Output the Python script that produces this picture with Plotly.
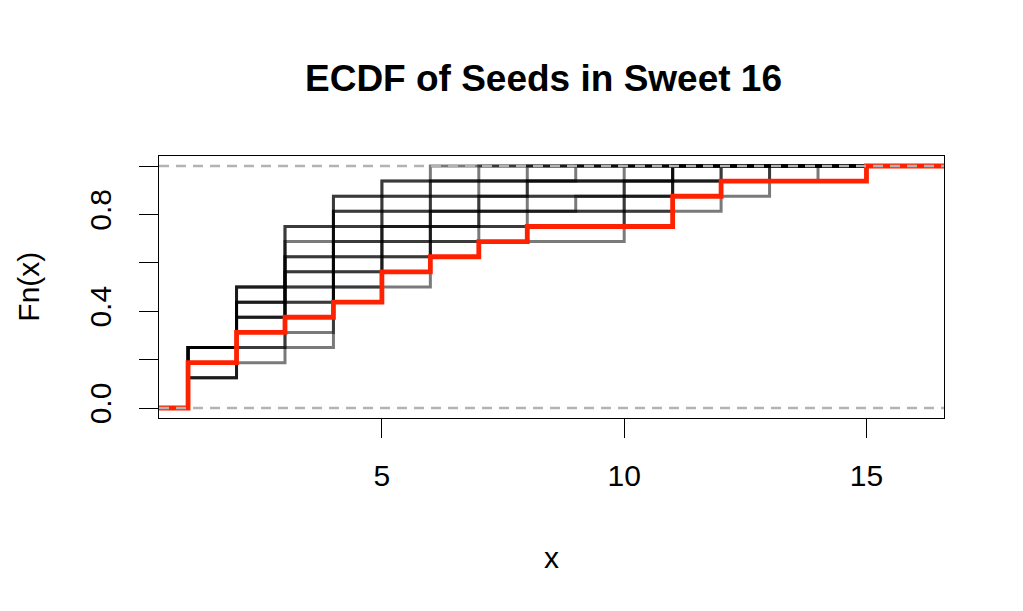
import numpy as np
import plotly.graph_objects as go

# seeds of the sixteen teams that reached the Sweet 16, one list per tournament
seeds_01 = [1, 1, 2, 3, 4, 4, 4, 4, 6, 6, 6, 10, 10, 12, 13, 14]
seeds_02 = [1, 1, 2, 2, 3, 4, 4, 4, 5, 5, 6, 7, 10, 11, 12, 13]
seeds_03 = [1, 1, 2, 2, 3, 3, 4, 4, 4, 5, 6, 6, 8, 10, 11, 13]
seeds_04 = [1, 1, 1, 2, 2, 3, 3, 4, 4, 5, 5, 6, 7, 10, 11, 12]
seeds_05 = [1, 1, 1, 2, 2, 3, 3, 4, 4, 4, 5, 6, 7, 9, 11, 12]
seeds_06 = [1, 1, 1, 2, 2, 2, 3, 3, 4, 4, 5, 5, 6, 8, 10, 11]
seeds_07 = [1, 1, 1, 2, 2, 2, 3, 3, 4, 4, 4, 5, 6, 7, 10, 11]
seeds_08 = [1, 1, 1, 1, 2, 2, 3, 3, 3, 4, 4, 5, 6, 7, 8, 11]
seeds_09 = [1, 1, 1, 1, 2, 2, 2, 3, 3, 4, 4, 4, 5, 6, 8, 11]
seeds_10 = [1, 1, 1, 1, 2, 2, 2, 3, 3, 3, 4, 4, 5, 6, 7, 10]
seeds_11 = [1, 1, 1, 1, 2, 2, 2, 3, 3, 3, 4, 4, 4, 5, 6, 9]
seeds_12 = [1, 1, 1, 1, 2, 2, 2, 2, 3, 3, 3, 4, 4, 5, 6, 8]
seeds_13 = [1, 1, 1, 1, 2, 2, 2, 2, 3, 3, 3, 3, 4, 4, 5, 7]
seeds_14 = [1, 1, 1, 1, 2, 2, 2, 2, 3, 3, 3, 3, 4, 4, 5, 6]
# the highlighted tournament (red)
seeds_highlight = [1, 1, 1, 2, 2, 3, 4, 5, 5, 6, 7, 8, 11, 11, 12, 15]

x_ticks = [5, 10, 15]
y_ticks = [0.0, 0.2, 0.4, 0.6, 0.8, 1.0]
y_labels = ["0.0", "", "0.4", "", "0.8", ""]

past_years = [seeds_01, seeds_02, seeds_03, seeds_04, seeds_05, seeds_06, seeds_07,
              seeds_08, seeds_09, seeds_10, seeds_11, seeds_12, seeds_13, seeds_14]

FONT = "Liberation Sans, Arial, Helvetica, sans-serif"


def ecdf_steps(seeds):
    vals, counts = np.unique(seeds, return_counts=True)
    fn = np.cumsum(counts) / len(seeds)
    xx = np.concatenate([[-5], vals, [40]])
    yy = np.concatenate([[0.0], fn, [1.0]])
    return xx, yy


fig = go.Figure()

for seeds in past_years:
    xx, yy = ecdf_steps(seeds)
    fig.add_trace(go.Scatter(x=xx, y=yy, mode="lines", line_shape="hv",
                             line=dict(color="rgba(0,0,0,0.52)", width=3),
                             hoverinfo="skip", showlegend=False))

xx, yy = ecdf_steps(seeds_highlight)
fig.add_trace(go.Scatter(x=xx, y=yy, mode="lines", line_shape="hv",
                         line=dict(color="#FF2200", width=4.8),
                         hoverinfo="skip", showlegend=False))

# dashed reference lines at 0 and 1, drawn over the steps like abline()
for h in (0, 1):
    fig.add_shape(type="line", xref="paper", x0=0, x1=1, yref="y", y0=h, y1=h,
                  line=dict(color="#B3B3B3", width=2.5, dash="10px,7px"), layer="above")

fig.update_layout(
    width=1023, height=611,
    margin=dict(l=159, r=79, t=156, b=193),
    paper_bgcolor="white", plot_bgcolor="white",
    font=dict(family=FONT, size=30, color="black"),
    title=dict(text="<b>ECDF of Seeds in Sweet 16</b>", font=dict(size=37),
               x=543.5 / 1023, xanchor="center", xref="container",
               y=1 - 78 / 611, yanchor="middle", yref="container"),
)

fig.update_xaxes(range=[0.4, 16.6], tickvals=x_ticks, ticks="outside", ticklen=19,
                 tickwidth=1.4, tickcolor="black", showline=True, linecolor="black",
                 linewidth=1.4, mirror=True, showgrid=False, zeroline=False,
                 ticklabelstandoff=12)
fig.update_yaxes(range=[-0.0413, 1.0413], tickvals=y_ticks, ticktext=y_labels,
                 tickangle=-90, ticks="outside", ticklen=19, tickwidth=1.4,
                 tickcolor="black", showline=True, linecolor="black", linewidth=1.4,
                 mirror=True, showgrid=False, zeroline=False, ticklabelstandoff=16)

fig.add_annotation(text="x", xref="paper", yref="paper", x=0.5, y=-0.531,
                   xanchor="center", yanchor="middle", showarrow=False,
                   font=dict(size=30))
fig.add_annotation(text="Fn(x)", xref="paper", yref="paper", x=-0.1673, y=0.5,
                   xanchor="center", yanchor="middle", textangle=-90, showarrow=False,
                   font=dict(size=30))

fig.write_html("out.html", config={"displayModeBar": False},
               post_script="document.body.style.margin='0';")
